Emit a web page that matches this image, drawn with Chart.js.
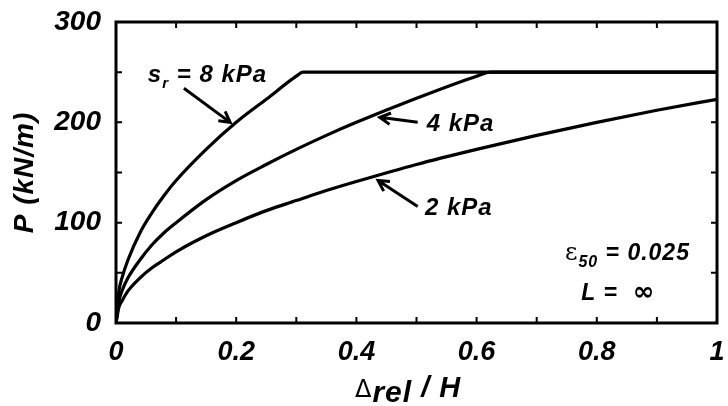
<!DOCTYPE html>
<html>
<head>
<meta charset="utf-8">
<script src="https://cdn.jsdelivr.net/npm/chart.js@4.4.0/dist/chart.umd.min.js"></script>
<style>
  html, body { margin: 0; padding: 0; background: #fff; }
  #wrap { width: 728px; height: 406px; }
</style>
</head>
<body>
<div id="wrap"><canvas id="pyChart"></canvas></div>
<script>
  // values (Δrel/H , P in kN/m)
  const s8X = [0, 0.005, 0.01, 0.02, 0.04, 0.06, 0.08, 0.1, 0.15, 0.2, 0.25, 0.3, 0.311, 0.5, 0.75, 1.0];
  const s8P = [0, 32, 45, 63, 90, 110, 127, 142, 173, 200, 223, 246, 250, 250, 250, 250];

  const s4X = [0, 0.005, 0.01, 0.02, 0.04, 0.06, 0.08, 0.1, 0.15, 0.2, 0.25, 0.3, 0.35, 0.4, 0.5, 0.6, 0.623, 0.8, 1.0];
  const s4P = [0, 22, 32, 45, 63, 78, 90, 100, 123, 142, 158, 173, 187, 200, 224, 246, 250, 250, 250];

  const s2X = [0, 0.005, 0.01, 0.02, 0.04, 0.06, 0.08, 0.1, 0.15, 0.2, 0.25, 0.3, 0.35, 0.4, 0.5, 0.6, 0.7, 0.8, 0.9, 1.0];
  const s2P = [0, 16, 22, 32, 45, 55, 63, 71, 87, 100, 112, 122, 132, 141, 158, 173, 187, 200, 212, 223];

  const xTickValues = [0, 0.2, 0.4, 0.6, 0.8, 1];
  const xTickLabels = ["0", "0.2", "0.4", "0.6", "0.8", "1"];
  const yTickValues = [0, 100, 200, 300];
  const yTickLabels = ["0", "100", "200", "300"];
  const xTickMarks = [0.1, 0.2, 0.3, 0.4, 0.5, 0.6, 0.7, 0.8, 0.9];
  const yTickMarks = [50, 100, 150, 200, 250];

  const BI = "bold italic ";
  const SANS = "'Liberation Sans', Arial, sans-serif";

  function pts(xs, ys) {
    return xs.map(function (x, i) { return { x: x, y: ys[i] }; });
  }

  function line(label, xs, ys) {
    return {
      label: label,
      data: pts(xs, ys),
      showLine: true,
      borderColor: "#000",
      borderWidth: 3.2,
      pointRadius: 0,
      fill: false,
      cubicInterpolationMode: "monotone",
    };
  }

  function arrow(ctx, x1, y1, x2, y2) {
    const a = Math.atan2(y2 - y1, x2 - x1);
    const h = 12;
    ctx.beginPath();
    ctx.moveTo(x1, y1);
    ctx.lineTo(x2, y2);
    ctx.moveTo(x2 - h * Math.cos(a - 0.5), y2 - h * Math.sin(a - 0.5));
    ctx.lineTo(x2, y2);
    ctx.lineTo(x2 - h * Math.cos(a + 0.5), y2 - h * Math.sin(a + 0.5));
    ctx.stroke();
  }

  // write a list of [text, font, dy] runs one after another
  function runs(ctx, x, y, parts) {
    parts.forEach(function (p) {
      ctx.font = p[1];
      ctx.fillText(p[0], x, y + (p[2] || 0));
      x += ctx.measureText(p[0]).width;
    });
  }

  const decor = {
    id: "decor",
    afterDraw: function (chart) {
      const ctx = chart.ctx;
      const a = chart.chartArea;
      const xs = chart.scales.x;
      const ys = chart.scales.y;
      const X = function (v) { return xs.getPixelForValue(v); };
      const Y = function (v) { return ys.getPixelForValue(v); };

      ctx.save();
      ctx.strokeStyle = "#000";
      ctx.fillStyle = "#000";

      // inward ticks on all four sides
      ctx.lineWidth = 2;
      ctx.beginPath();
      xTickMarks.forEach(function (v) {
        ctx.moveTo(X(v), a.bottom); ctx.lineTo(X(v), a.bottom - 6);
        ctx.moveTo(X(v), a.top); ctx.lineTo(X(v), a.top + 6);
      });
      yTickMarks.forEach(function (v) {
        ctx.moveTo(a.left, Y(v)); ctx.lineTo(a.left + 6, Y(v));
        ctx.moveTo(a.right, Y(v)); ctx.lineTo(a.right - 6, Y(v));
      });
      ctx.stroke();

      // frame
      ctx.lineWidth = 3;
      ctx.strokeRect(a.left, a.top, a.right - a.left, a.bottom - a.top);

      // arrows
      ctx.lineWidth = 3;
      arrow(ctx, X(0.113), Y(234), X(0.19), Y(200));
      arrow(ctx, X(0.502), Y(200), X(0.439), Y(205));
      arrow(ctx, X(0.502), Y(116), X(0.436), Y(142));

      // labels
      ctx.textBaseline = "alphabetic";
      ctx.textAlign = "left";
      ctx.letterSpacing = "1px";
      runs(ctx, X(0.053), Y(240), [
        ["s", BI + "24px " + SANS],
        ["r", BI + "15px " + SANS, 6],
        [" = 8 kPa", BI + "24px " + SANS],
      ]);
      runs(ctx, X(0.517), Y(191), [["4 kPa", BI + "24px " + SANS]]);
      runs(ctx, X(0.514), Y(108), [["2 kPa", BI + "24px " + SANS]]);
      runs(ctx, X(0.747), Y(63), [
        ["\u03b5", "24px 'DejaVu Serif', serif"],
        ["50", BI + "16px " + SANS, 7],
        [" = 0.025", BI + "23px " + SANS],
      ]);
      runs(ctx, X(0.774), Y(23), [
        ["L =  ", BI + "23px " + SANS],
        ["\u221e", "bold 26px 'DejaVu Sans', sans-serif"],
      ]);

      // axis titles
      runs(ctx, 355, 397, [
        ["\u0394", "24px 'DejaVu Sans', sans-serif"],
        ["rel", BI + "30px " + SANS, 5],
        [" / H", BI + "29px " + SANS],
      ]);

      ctx.translate(33, (a.top + a.bottom) / 2);
      ctx.rotate(-Math.PI / 2);
      ctx.textAlign = "center";
      ctx.font = BI + "28px " + SANS;
      ctx.fillText("P (kN/m)", 0, 0);
      ctx.restore();
    },
  };

  const ctx = document.getElementById("pyChart");

  new Chart(ctx, {
    type: "scatter",
    data: {
      datasets: [
        line("8 kPa", s8X, s8P),
        line("4 kPa", s4X, s4P),
        line("2 kPa", s2X, s2P),
      ],
    },
    options: {
      responsive: true,
      maintainAspectRatio: false,
      animation: false,
      layout: {
        autoPadding: false,
        padding: { top: 22, right: 11, left: 0, bottom: 0 },
      },
      plugins: {
        legend: { display: false },
        tooltip: { enabled: false },
      },
      scales: {
        x: {
          type: "linear",
          min: 0,
          max: 1,
          grid: { display: false, drawTicks: false },
          border: { display: false },
          afterBuildTicks: function (scale) {
            scale.ticks = xTickValues.map(function (v) { return { value: v }; });
          },
          afterFit: function (scale) {
            scale.height = 83;
            scale.paddingLeft = 0;
            scale.paddingRight = 0;
          },
          ticks: {
            padding: 13,
            color: "#000",
            font: { family: SANS, size: 27, weight: "bold", style: "italic" },
            callback: function (value, i) { return xTickLabels[i]; },
          },
        },
        y: {
          type: "linear",
          min: 0,
          max: 300,
          grid: { display: false, drawTicks: false },
          border: { display: false },
          afterBuildTicks: function (scale) {
            scale.ticks = yTickValues.map(function (v) { return { value: v }; });
          },
          afterFit: function (scale) {
            scale.width = 116;
            scale.paddingTop = 0;
            scale.paddingBottom = 0;
          },
          ticks: {
            padding: 15,
            color: "#000",
            font: { family: SANS, size: 28, weight: "bold", style: "italic" },
            callback: function (value, i) { return yTickLabels[i]; },
          },
        },
      },
    },
    plugins: [decor],
  });
</script>
</body>
</html>
